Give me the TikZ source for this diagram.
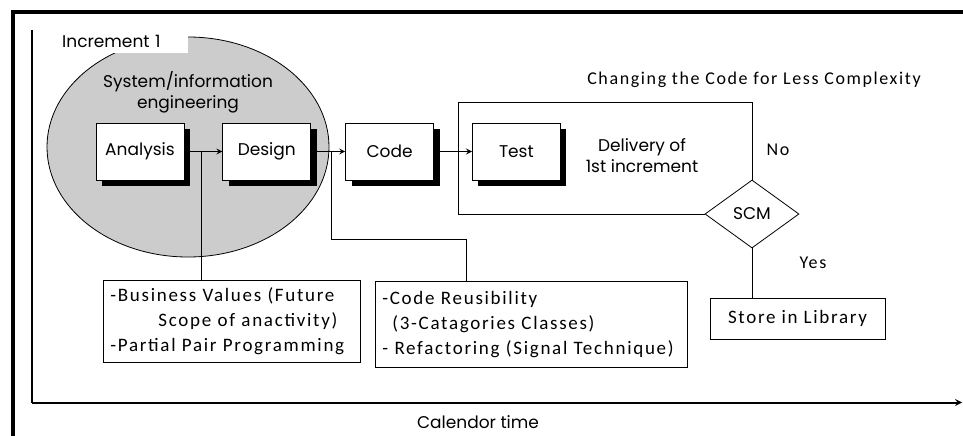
\documentclass[tikz,border=0pt]{standalone}
\usepackage{fontspec}
\usetikzlibrary{positioning,shapes.geometric,shadows}
\newfontfamily\diagfont{Poppins}
\newfontfamily\notefont[LetterSpace=9]{Carlito}

\begin{document}
\begin{tikzpicture}[%
    x=1pt,y=-1pt,>=stealth,node distance=38pt,
    phase/.style={%
      draw,thick,fill=white,minimum width=88pt,minimum height=57pt,
      font=\diagfont\fontsize{17}{20}\selectfont,
      drop shadow={shadow xshift=6pt,shadow yshift=-6pt,fill=black,opacity=1}},
    note/.style={%
      draw,thick,align=left,anchor=north west,inner xsep=7pt,
      font=\notefont\fontsize{19}{25}\selectfont},
    label/.style={font=\diagfont\fontsize{17}{21}\selectfont,align=center},
    remark/.style={font=\notefont\fontsize{18}{22}\selectfont},
    flow/.style={->,line width=1.6pt},
    wire/.style={thick}
  ]
    \useasboundingbox (0,0) rectangle (963,436);
    % frame and time axis
    \draw[line width=4pt] (12.5,436) -- (12.5,12.5) -- (963,12.5);
    \coordinate (origin) at (32,402.5);
    \coordinate (top)    at (32,30);
    \coordinate (end)    at (962,402.5);
    \draw[line width=2pt] (top) -- (origin);
    \draw[line width=2pt,->] (origin) -- (end);
    \node[label] (time) at (478,422) {Calendor time};

    % increment 1
    \node[ellipse,draw,thick,fill=gray!40,minimum width=282pt,minimum height=220pt] (sys) at (188,147) {};
    \node[fill=white,anchor=north west,minimum height=23pt,text width=119pt,inner xsep=7pt,
      font=\diagfont\fontsize{17}{20}\selectfont] (incr) at (55,30) {Increment 1};
    \node[label] (syslbl) at (188,92) {System/information\\engineering};

    \node[phase] (analysis) at (140,151.5)                   {Analysis};
    \node[phase] (design) [right=of analysis]               {Design};
    \node[phase] (code)   [node distance=34pt,right=of design] {Code};
    \node[phase] (test)   [right=of code]                   {Test};
    \node[label] (deliver) at (642,156) {Delivery of\\1st increment};

    \draw[flow] (analysis) -- (design) coordinate[pos=0.45] (bv);
    \draw[flow] (design) -- (code) coordinate[pos=0.59] (cr);
    \draw[flow] (code) -- (test);

    % refactoring loop
    \node[diamond,draw,thick,minimum width=94pt,minimum height=68pt,inner sep=0pt,
      font=\diagfont\fontsize{17}{20}\selectfont] (scm) at (752,214) {SCM};
    \coordinate (loop) at (458,102);
    \draw[wire] (scm.west) -| (loop) -| (scm.north);
    \node[remark] (change) at (754,80) {Changing the Code for Less Complexity};
    \node[remark] (no)  at (778,150) {No};
    \node[remark] (yes) at (813,263) {Yes};
    \node[draw,thick,minimum width=175pt,minimum height=41pt,
      font=\notefont\fontsize{19}{22}\selectfont] (store) at (797.5,318.5) {Store in Library};
    \draw[wire] (scm.south) -- (scm.south |- store.north);

    % notes
    \node[note,text width=243pt,minimum height=82pt] (biz) at (103,280)
      {-Business Values (Future\\\hspace*{48pt}Scope of anactivity)\\-Partial Pair Programming};
    \node[note,text width=298pt,minimum height=86pt] (reuse) at (375,281)
      {-Code Reusibility\\\hspace*{10pt}(3-Catagories Classes)\\- Refactoring (Signal Technique)};
    \coordinate (jog) at (466,239);
    \draw[wire] (bv) -- (bv |- biz.north);
    \draw[wire] (cr) |- (jog) -- (jog |- reuse.north);
\end{tikzpicture}
\end{document}
